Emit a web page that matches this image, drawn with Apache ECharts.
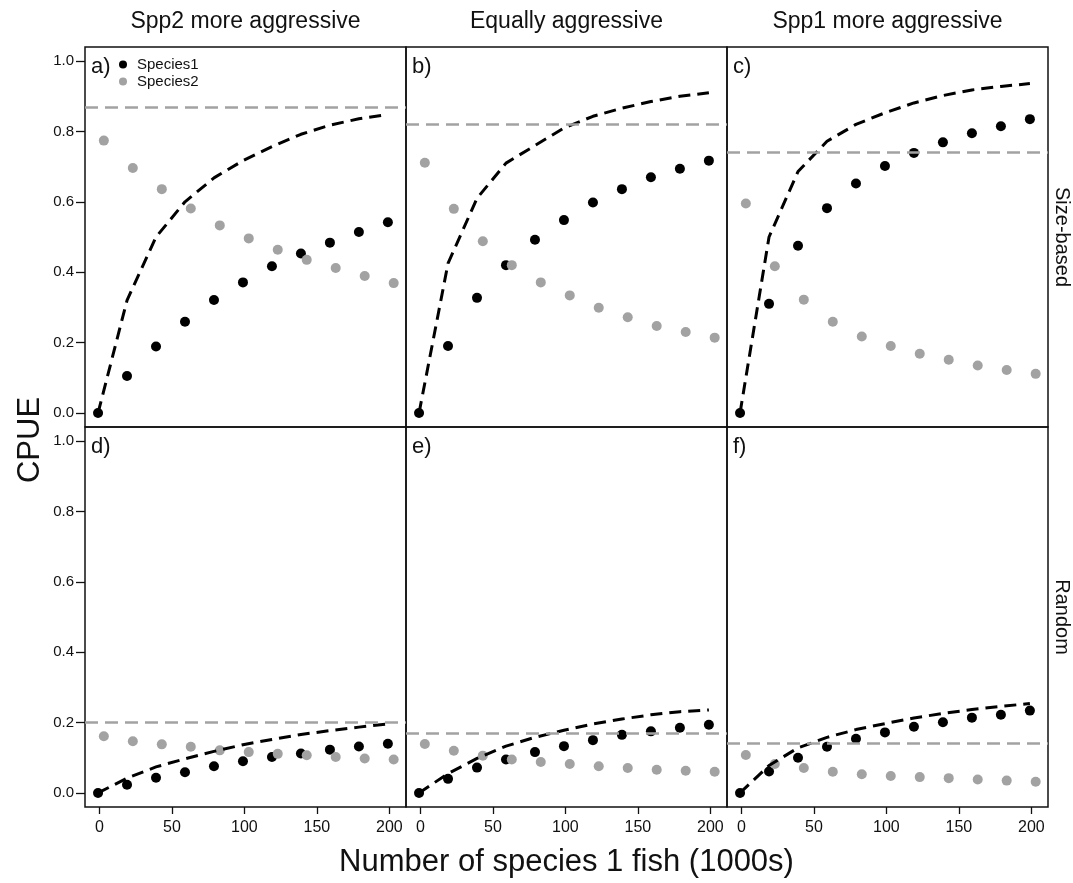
<!DOCTYPE html>
<html><head><meta charset="utf-8">
<script src="https://cdn.jsdelivr.net/npm/echarts@6/dist/echarts.min.js"></script>
<style>html,body{margin:0;padding:0;background:#fff}#c{width:1073px;height:883px}</style>
</head><body><div id="c"></div>
<script>
// ---------- data ----------
const sp1X = [-1, 19, 39, 59, 79, 99, 119, 139, 159, 179, 199];
const sp2X = [3, 23, 43, 63, 83, 103, 123, 143, 163, 183, 203];
const xTicks = [0, 50, 100, 150, 200];
const yTicks = [0, 0.2, 0.4, 0.6, 0.8, 1.0];
const panelLabels = ['a)', 'b)', 'c)', 'd)', 'e)', 'f)'];
const colTitles = ['Spp2 more aggressive', 'Equally aggressive', 'Spp1 more aggressive'];
const rowTitles = ['Size-based', 'Random'];
const legendNames = ['Species1', 'Species2'];

// a) size-based, spp2 more aggressive
const sp1_a = [0, 0.105, 0.189, 0.259, 0.321, 0.371, 0.417, 0.453, 0.484, 0.514, 0.542];
const sp2_a = [0.774, 0.696, 0.636, 0.581, 0.533, 0.496, 0.464, 0.435, 0.412, 0.389, 0.369];
const curve_a = [0, 0.32, 0.50, 0.60, 0.668, 0.717, 0.757, 0.792, 0.818, 0.836, 0.848];
const ref_a = 0.869;
// b) size-based, equal
const sp1_b = [0, 0.190, 0.327, 0.420, 0.492, 0.548, 0.598, 0.636, 0.670, 0.694, 0.717];
const sp2_b = [0.711, 0.580, 0.488, 0.420, 0.371, 0.334, 0.299, 0.272, 0.247, 0.230, 0.214];
const curve_b = [0, 0.425, 0.61, 0.71, 0.76, 0.81, 0.843, 0.866, 0.885, 0.90, 0.91];
const ref_b = 0.824;
// c) size-based, spp1 more aggressive
const sp1_c = [0, 0.310, 0.475, 0.582, 0.652, 0.702, 0.739, 0.769, 0.795, 0.815, 0.835];
const sp2_c = [0.595, 0.417, 0.322, 0.259, 0.217, 0.190, 0.168, 0.151, 0.135, 0.122, 0.111];
const curve_c = [0, 0.50, 0.686, 0.772, 0.82, 0.853, 0.881, 0.902, 0.918, 0.928, 0.936];
const ref_c = 0.737;
// d) random, spp2 more aggressive
const sp1_d = [0, 0.023, 0.043, 0.059, 0.076, 0.090, 0.102, 0.112, 0.123, 0.132, 0.140];
const sp2_d = [0.161, 0.147, 0.138, 0.131, 0.121, 0.116, 0.111, 0.107, 0.102, 0.098, 0.095];
const curve_d = [0, 0.042, 0.074, 0.097, 0.118, 0.137, 0.152, 0.166, 0.177, 0.187, 0.196];
const ref_d = 0.198;
// e) random, equal
const sp1_e = [0, 0.040, 0.072, 0.095, 0.116, 0.133, 0.150, 0.165, 0.175, 0.185, 0.194];
const sp2_e = [0.139, 0.120, 0.106, 0.095, 0.088, 0.082, 0.076, 0.071, 0.066, 0.063, 0.060];
const curve_e = [0, 0.055, 0.098, 0.133, 0.158, 0.178, 0.196, 0.210, 0.222, 0.231, 0.236];
const ref_e = 0.175;
// f) random, spp1 more aggressive
const sp1_f = [0, 0.061, 0.100, 0.131, 0.154, 0.172, 0.188, 0.201, 0.214, 0.222, 0.234];
const sp2_f = [0.108, 0.082, 0.071, 0.060, 0.053, 0.048, 0.045, 0.042, 0.038, 0.035, 0.032];
const curve_f = [0, 0.078, 0.128, 0.158, 0.180, 0.197, 0.213, 0.226, 0.237, 0.246, 0.254];
const ref_f = 0.140;

const panels = [
  [sp1_a, sp2_a, curve_a, ref_a], [sp1_b, sp2_b, curve_b, ref_b], [sp1_c, sp2_c, curve_c, ref_c],
  [sp1_d, sp2_d, curve_d, ref_d], [sp1_e, sp2_e, curve_e, ref_e], [sp1_f, sp2_f, curve_f, ref_f]
];

// ---------- layout ----------
const FONT = 'Liberation Sans, Arial, sans-serif';
const colLeft = [85, 406, 727];
const rowTop = [47, 427];
const PW = 321, PH = 380;
const GRAY = '#a2a2a2';

const grids = [], xAxes = [], yAxes = [], series = [], graphics = [];
panels.forEach((p, i) => {
  const r = Math.floor(i / 3), c = i % 3;
  const bottom = r === 1, left = c === 0;
  grids.push({left: colLeft[c], top: rowTop[r], width: PW, height: PH,
    show: true, borderColor: '#111', borderWidth: 1.5, backgroundColor: 'transparent'});
  xAxes.push({gridIndex: i, type: 'value', min: -10, max: 211.5, position: 'bottom',
    axisLine: {show: false, onZero: false}, splitLine: {show: false},
    axisTick: {show: bottom, customValues: xTicks, length: 7, lineStyle: {color: '#111', width: 1.3}},
    axisLabel: {show: bottom, customValues: xTicks, margin: 13, fontSize: 16, color: '#111', fontFamily: FONT}
  });
  yAxes.push({gridIndex: i, type: 'value', min: -0.04, max: 1.04, position: 'left',
    axisLine: {show: false, onZero: false}, splitLine: {show: false},
    axisTick: {show: left, customValues: yTicks, length: 9, lineStyle: {color: '#111', width: 1.3}},
    axisLabel: {show: left, customValues: yTicks, margin: 11, fontSize: 15, color: '#111', fontFamily: FONT,
      formatter: v => v.toFixed(1)}
  });
  const [s1, s2, cv, ref] = p;
  series.push({name: legendNames[0], type: 'scatter', xAxisIndex: i, yAxisIndex: i, z: 2,
    symbolSize: 10, itemStyle: {color: '#000', opacity: 1}, data: sp1X.map((x, k) => [x, s1[k]])});
  series.push({name: legendNames[1], type: 'scatter', xAxisIndex: i, yAxisIndex: i, z: 3,
    symbolSize: 10, itemStyle: {color: GRAY, opacity: 1}, data: sp2X.map((x, k) => [x, s2[k]]),
    markLine: {silent: true, symbol: 'none', label: {show: false}, animation: false,
      lineStyle: {color: GRAY, type: [13, 7], width: 2.6}, data: [{yAxis: ref}]}});
  series.push({name: 'curve', type: 'line', xAxisIndex: i, yAxisIndex: i, z: 4,
    showSymbol: false, symbol: 'none', silent: true,
    lineStyle: {color: '#000', width: 3, type: [12, 7]}, data: sp1X.map((x, k) => [x, cv[k]])});
  graphics.push({type: 'text', x: colLeft[c] + 6, y: rowTop[r] + 20, z: 10,
    style: {text: panelLabels[i], font: '22px ' + FONT, fill: '#111', align: 'left', verticalAlign: 'middle'}});
});

colTitles.forEach((t, c) => graphics.push({type: 'text', x: colLeft[c] + PW / 2, y: 22,
  style: {text: t, font: '23px ' + FONT, fill: '#111', align: 'center', verticalAlign: 'middle'}}));
rowTitles.forEach((t, r) => graphics.push({type: 'text', x: 1062, y: rowTop[r] + PH / 2, rotation: -Math.PI / 2,
  style: {text: t, font: '20px ' + FONT, fill: '#111', align: 'center', verticalAlign: 'middle'}}));
graphics.push({type: 'text', x: 30, y: 440, rotation: Math.PI / 2,
  style: {text: 'CPUE', font: '31px ' + FONT, fill: '#111', align: 'center', verticalAlign: 'middle'}});
graphics.push({type: 'text', x: 566.5, y: 862,
  style: {text: 'Number of species 1 fish (1000s)', font: '31px ' + FONT, fill: '#111', align: 'center', verticalAlign: 'middle'}});

const chart = echarts.init(document.getElementById('c'), null, {renderer: 'canvas'});
chart.setOption({
  animation: false,
  backgroundColor: '#fff',
  grid: grids, xAxis: xAxes, yAxis: yAxes, series: series,
  legend: {data: legendNames, orient: 'vertical', left: 114, top: 52, itemWidth: 18, itemHeight: 8,
    itemGap: 2, icon: 'circle', selectedMode: false,
    textStyle: {fontSize: 15, color: '#111', fontFamily: FONT}},
  graphic: graphics
});
</script></body></html>
